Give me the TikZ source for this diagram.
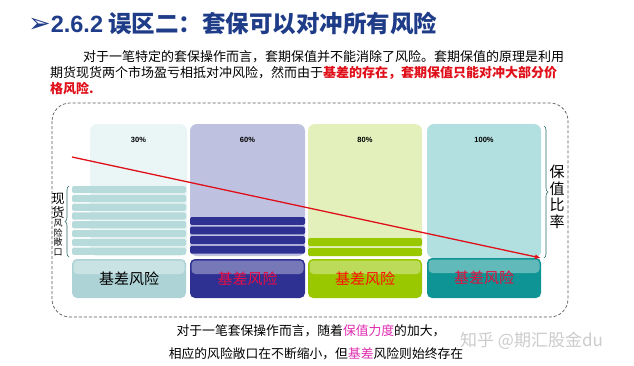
\documentclass[tikz,border=0pt]{standalone}
\usepackage{fontspec}
\setmainfont{Noto Sans CJK SC}
\setsansfont{Liberation Sans}
\newfontfamily\dingfont{DejaVu Sans}
\usetikzlibrary{arrows.meta,positioning,calc,decorations.pathreplacing}

\definecolor{titleblue}{HTML}{1F3C88}
\definecolor{hotred}{HTML}{E0101A}
\definecolor{pinkish}{HTML}{E02CB0}
\definecolor{panA}{HTML}{EAF5F5}
\definecolor{panB}{HTML}{BFC1E0}
\definecolor{panC}{HTML}{E3F0BB}
\definecolor{panD}{HTML}{B2DFDF}
\definecolor{barA}{HTML}{B7DADB}
\definecolor{boxA}{HTML}{ADD3D6}
\definecolor{barB}{HTML}{2E3192}
\definecolor{barC}{HTML}{99C800}
\definecolor{barD}{HTML}{0E9494}
\definecolor{bracecol}{HTML}{2B6E6E}

\begin{document}
\begin{tikzpicture}[x=1pt, y=-1pt,
  panel/.style={rounded corners=7pt, inner sep=0pt, outer sep=0pt, anchor=north west, minimum height=132pt},
  basis/.style={rounded corners=5pt, inner sep=0pt, outer sep=0pt, anchor=north west, minimum height=39pt, font=\fontsize{15}{16}\selectfont,
    path picture={\fill[white, opacity=0.35, rounded corners=4pt] ([xshift=1.5pt,yshift=-1.5pt]path picture bounding box.north west) rectangle ([xshift=-1.5pt,yshift=-15pt]path picture bounding box.north east);}},
  pct/.style={font=\sffamily\bfseries\fontsize{7.5}{8}\selectfont, inner sep=0pt},
  para/.style={anchor=west, inner sep=0pt, font=\fontsize{13}{14}\selectfont},
  caption/.style={inner sep=0pt, font=\fontsize{12.8}{14}\selectfont},
  vlabel/.style={align=center, inner sep=0pt},
  stripe/.style={rounded corners=1.5pt},
  redarr/.style={-{Latex[length=6pt,width=5pt]}, hotred, line width=1.3pt},
  brc/.style={decorate, decoration={brace, amplitude=4pt}, bracecol, line width=0.6pt}
]
\fill[white] (0,0) rectangle (634,365);
\useasboundingbox (0,0) rectangle (634,365);

% heading and text
\node[anchor=west, inner sep=0pt, text=titleblue, font=\fontsize{23.5}{24}\selectfont\bfseries] (title) at (28,23)
  {{\dingfont\fontsize{27}{28}\selectfont ➢}{\sffamily 2.6.2} 误区二：套保可以对冲所有风险};
\node[para] (p1) at (83,57) {对于一笔特定的套保操作而言，套期保值并不能消除了风险。套期保值的原理是利用};
\node[para] (p2) at (50,73) {期货现货两个市场盈亏相抵对冲风险，然而由于\textcolor{hotred}{\bfseries 基差的存在，套期保值只能对冲大部分价}};
\node[para, text=hotred, font=\fontsize{13}{14}\selectfont\bfseries] (p3) at (50,89) {格风险.};

% frame
\draw[gray!70!black, line width=0.7pt, dash pattern=on 3pt off 2pt, rounded corners=18pt] (52,103) rectangle (568,317);

% hedge ratio panels
\node[panel, fill=panA, minimum width=97pt] (panA) at (90,124) {};
\node[panel, fill=panB, minimum width=115pt] (panB) at (190,124) {};
\node[panel, fill=panC, minimum width=114pt] (panC) at (308,124) {};
\node[panel, fill=panD, minimum width=114pt, minimum height=134pt] (panD) at (427,124) {};

\node[pct, below=13pt of panA.north] (ra) {30\%};
\node[pct, below=13pt of panB.north] (rb) {60\%};
\node[pct, below=13pt of panC.north] (rc) {80\%};
\node[pct, below=13pt of panD.north] (rd) {100\%};

% spot exposure stripes
\foreach \i in {0,...,7}
  \fill[stripe, barA] (72,186+\i*8.8) rectangle (186,186+\i*8.8+7.2);
\foreach \i in {0,...,3}
  \fill[stripe, barB] (190,217+\i*9.6) rectangle (305,217+\i*9.6+7.8);
\foreach \i in {0,1}
  \fill[stripe, barC] (308,238+\i*10) rectangle (422,238+\i*10+8);

% basis risk boxes
\node[basis, fill=boxA, minimum width=114pt] (ba) at (72,259) {\raisebox{-3pt}{基差风险}};
\node[basis, fill=barB, minimum width=115pt, text=hotred!80!magenta] (bb) at (190,259) {\raisebox{-3pt}{基差风险}};
\node[basis, fill=barC, minimum width=114pt, text=red!90!orange] (bc) at (308,259) {\raisebox{-3pt}{基差风险}};
\node[basis, fill=barD, minimum width=114pt, minimum height=40pt, text=hotred!85!magenta] (bd) at (427,258) {\raisebox{-3pt}{基差风险}};

% trend
\coordinate (tstart) at (72,157);
\coordinate (tend) at (541,258);
\draw[redarr] (tstart) -- (tend);

% braces and side labels
\coordinate (lbot) at (69,257);
\coordinate (ltop) at (69,186);
\draw[brc] (lbot) -- (ltop);
\node[vlabel, font=\fontsize{13}{13.5}\selectfont] (spot) at (58,206) {现\\货};
\node[vlabel, font=\fontsize{9}{9.5}\selectfont, below=1pt of spot] (expo) {风\\险\\敞\\口};

\coordinate (rtop) at (544,126);
\coordinate (rbot) at (544,258);
\draw[brc] (rtop) -- (rbot);
\node[vlabel, font=\fontsize{15}{16.5}\selectfont] (ratio) at (557,197) {保\\值\\比\\率};

% caption
\node[caption] (c1) at (311,331) {对于一笔套保操作而言，随着\textcolor{pinkish}{保值力度}的加大，};
\node[caption] (c2) at (316,354) {相应的风险敞口在不断缩小，但\textcolor{pinkish}{基差}风险则始终存在};
\node[anchor=west, inner sep=0pt, text=gray!40, font=\fontsize{17}{18}\selectfont] (wm) at (460,341) {知乎 @期汇股金du};
\end{tikzpicture}
\end{document}
